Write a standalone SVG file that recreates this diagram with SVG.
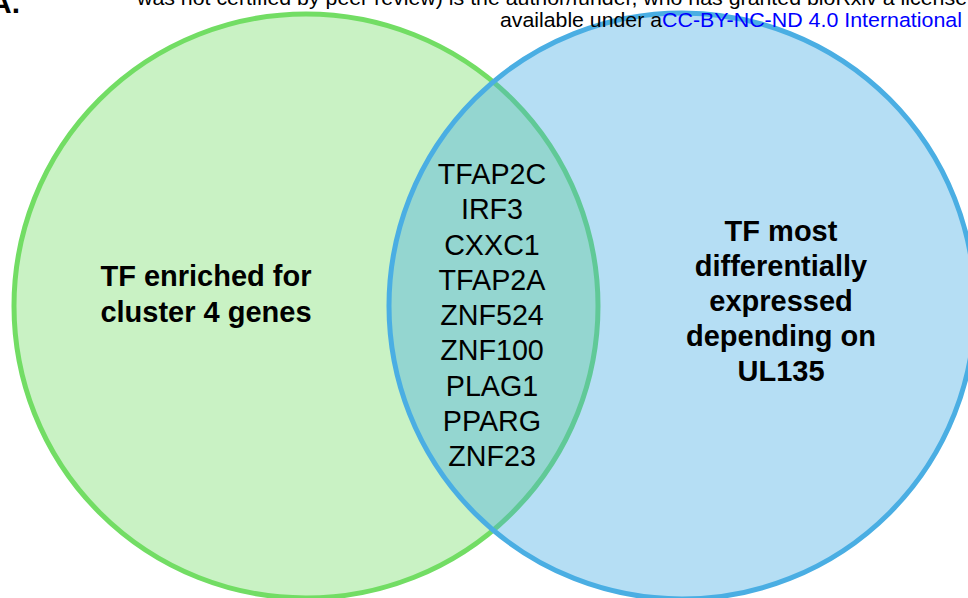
<svg xmlns="http://www.w3.org/2000/svg" width="968" height="598" viewBox="0 0 968 598">
<style>
.hdr{font-family:"Liberation Sans",Arial,sans-serif;font-size:20.5px;fill:#000}
.lnk{fill:#0000ff}
.lbl{font-family:"Liberation Sans",Arial,sans-serif;font-size:29px;font-weight:bold;fill:#000;text-anchor:middle}
.gene{font-family:"Liberation Sans",Arial,sans-serif;font-size:28.7px;fill:#000;text-anchor:middle}
.set-green{fill:#72DD64;fill-opacity:0.38;stroke:#72DD64;stroke-width:5}
.set-blue{fill:#46ACE3;fill-opacity:0.4;stroke:#4AAEE3;stroke-width:5}
</style>
<rect width="968" height="598" fill="#ffffff"/>
<g id="set-cluster4">
<circle class="set-green" cx="306" cy="306" r="292"/>
<text class="lbl" x="206" y="286">TF enriched for</text>
<text class="lbl" x="206" y="322">cluster 4 genes</text>
</g>
<g id="set-ul135">
<circle class="set-blue" cx="682" cy="306" r="293"/>
<text class="lbl" x="781" y="241">TF most</text>
<text class="lbl" x="781" y="276">differentially</text>
<text class="lbl" x="781" y="311">expressed</text>
<text class="lbl" x="781" y="346">depending on</text>
<text class="lbl" x="781" y="381">UL135</text>
</g>
<g id="overlap">
<text class="gene" x="492" y="184">TFAP2C</text>
<text class="gene" x="492" y="219">IRF3</text>
<text class="gene" x="492" y="254.5">CXXC1</text>
<text class="gene" x="492" y="290">TFAP2A</text>
<text class="gene" x="492" y="325">ZNF524</text>
<text class="gene" x="492" y="360">ZNF100</text>
<text class="gene" x="492" y="395.5">PLAG1</text>
<text class="gene" x="492" y="431">PPARG</text>
<text class="gene" x="492" y="466">ZNF23</text>
</g>
<g id="connectors"/>
<g id="header">
<text x="20" y="13" font-family="Liberation Sans,Arial,sans-serif" font-size="30" font-weight="bold" text-anchor="end">A.</text>
<text class="hdr" x="137" y="5" textLength="830" lengthAdjust="spacingAndGlyphs">was not certified by peer review) is the author/funder, who has granted bioRxiv a license</text>
<text class="hdr" x="500" y="27" textLength="162" lengthAdjust="spacingAndGlyphs">available under a</text>
<text class="hdr lnk" x="662" y="27" textLength="300" lengthAdjust="spacingAndGlyphs">CC-BY-NC-ND 4.0 International</text>
</g>
</svg>
